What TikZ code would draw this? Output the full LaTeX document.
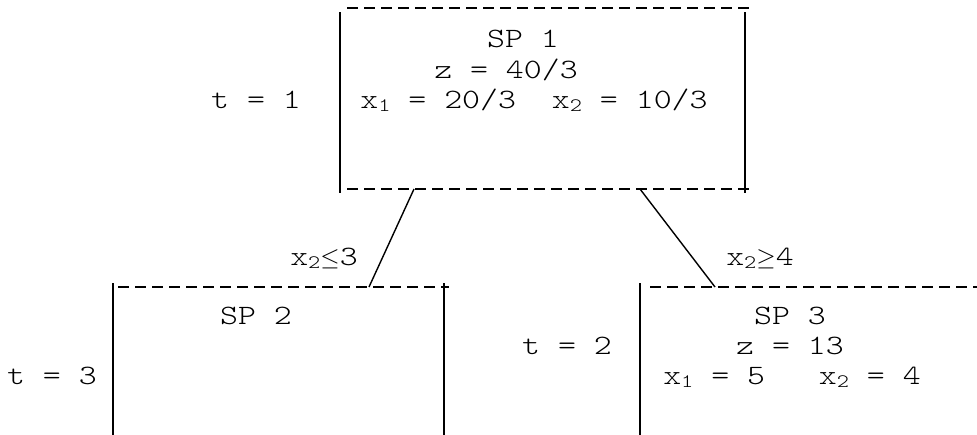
\documentclass[tikz,border=0pt]{standalone}
\usepackage{fontspec}
\setmonofont[FakeStretch=1.22]{Latin Modern Mono Light}
\newcommand{\sbs}[1]{\raisebox{-0.3ex}{\fontsize{19}{19}\selectfont #1}}
\tikzset{
  lbl/.style={anchor=base, inner sep=0pt, font=\ttfamily\fontsize{28}{31}\selectfont},
  side/.style={line width=1.6pt},
  edge/.style={line width=1.6pt, dash pattern=on 11pt off 6pt},
  conn/.style={line width=1.4pt}
}
\begin{document}
\begin{tikzpicture}[x=1pt,y=-1pt]
\useasboundingbox (0,0) rectangle (977,434);
% top box corners
\coordinate (a1) at (340,12); \coordinate (a2) at (340,193);
\coordinate (b1) at (745,12); \coordinate (b2) at (745,193);
\coordinate (ht1) at (347,8); \coordinate (ht2) at (750,8);
\coordinate (hb1) at (347,189); \coordinate (hb2) at (750,189);
\draw[side] (a1) -- (a2);
\draw[side] (b1) -- (b2);
\draw[edge] (ht1) -- (ht2);
\draw[edge] (hb1) -- (hb2);
% SP2 box
\coordinate (c1) at (113,283); \coordinate (c2) at (113,436);
\coordinate (d1) at (444,283); \coordinate (d2) at (444,436);
\coordinate (ct1) at (118,287); \coordinate (ct2) at (449,287);
\draw[side] (c1) -- (c2);
\draw[side] (d1) -- (d2);
\draw[edge] (ct1) -- (ct2);
% SP3 box
\coordinate (e1) at (640,283); \coordinate (e2) at (640,436);
\coordinate (et1) at (650,287); \coordinate (et2) at (980,287);
\draw[side] (e1) -- (e2);
\draw[edge] (et1) -- (et2);
% connectors
\coordinate (p1) at (414,189); \coordinate (q1) at (369,287);
\coordinate (p2) at (640,189); \coordinate (q2) at (715,287);
\draw[conn] (p1) -- (q1);
\draw[conn] (p2) -- (q2);
% texts
\node[lbl] (sp1) at (523,47) {SP 1};
\node[lbl] (z1) at (506,78) {z = 40/3};
\node[lbl] (x1) at (534,108) {x\sbs{1} = 20/3~~x\sbs{2} = 10/3};
\node[lbl] (t1) at (256,108) {t = 1};
\node[lbl] (sp2) at (256,324) {SP 2};
\node[lbl] (t3) at (52,384) {t = 3};
\node[lbl] (b2l) at (324,265) {x\sbs{2}$\leq$3};
\node[lbl] (sp3) at (790,324) {SP 3};
\node[lbl] (z3) at (790,354) {z = 13};
\node[lbl] (x3) at (792,384) {x\sbs{1} = 5~~~x\sbs{2} = 4};
\node[lbl] (t2) at (567,354) {t = 2};
\node[lbl] (b3l) at (760,265) {x\sbs{2}$\geq$4};
\end{tikzpicture}
\end{document}
